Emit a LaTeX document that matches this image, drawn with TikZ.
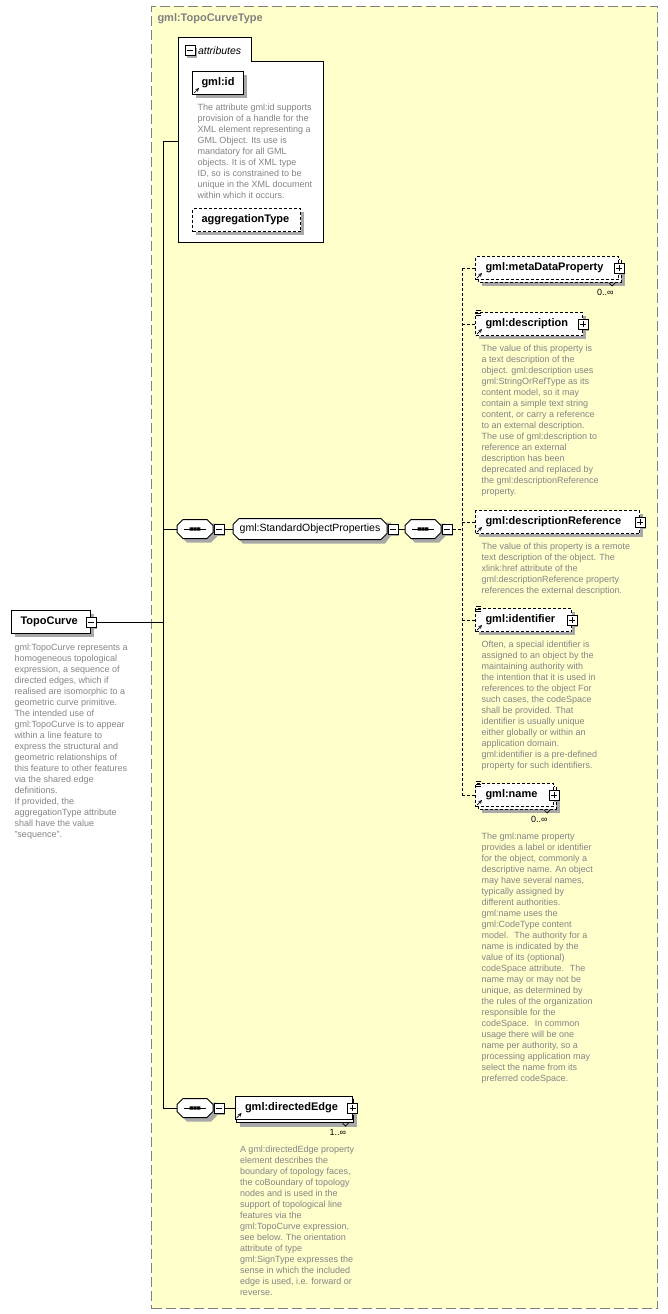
\documentclass[tikz,border=0pt]{standalone}
\usepackage{fontspec}
\setmainfont{Liberation Sans}
\usepackage{tikz}
\usetikzlibrary{arrows, positioning}
\definecolor{typefill}{RGB}{255,255,204}
\definecolor{typeline}{RGB}{128,128,128}
\definecolor{doctext}{RGB}{132,132,132}
\definecolor{shadowgray}{RGB}{168,168,168}
\tikzstyle{typebox} = [rectangle, draw=typeline, fill=typefill, dash pattern=on 10pt off 4pt, anchor=north west, inner sep=0pt]
\tikzstyle{title} = [text=typeline, font=\bfseries\fontsize{11}{13}\selectfont, inner sep=0pt]
\tikzstyle{elem} = [rectangle, draw=black, fill=white, font=\bfseries\fontsize{11}{13}\selectfont, minimum height=23pt, inner xsep=10pt, inner ysep=0pt, anchor=north west, align=left]
\tikzstyle{optline} = [dash pattern=on 3pt off 2pt]
\tikzstyle{backbox} = [draw=black, fill=white]
\tikzstyle{shadefill} = [fill=shadowgray]
\tikzstyle{colbox} = [rectangle, draw=black, fill=white, minimum size=10pt, inner sep=0pt, path picture={\draw ([xshift=2pt]path picture bounding box.west) -- ([xshift=-2pt]path picture bounding box.east);}]
\tikzstyle{expbox} = [colbox, path picture={\draw ([xshift=2pt]path picture bounding box.west) -- ([xshift=-2pt]path picture bounding box.east); \draw ([yshift=-2pt]path picture bounding box.north) -- ([yshift=2pt]path picture bounding box.south);}]
\tikzstyle{doc} = [text=doctext, font=\fontsize{9}{11}\selectfont, align=left, inner sep=0pt]
\tikzstyle{card} = [font=\fontsize{9}{11}\selectfont, inner sep=0pt]
\tikzstyle{refarrow} = [line width=0.7pt, ->, >=stealth]
\tikzstyle{simpleicon} = [line width=0.7pt]
\tikzset{
  compositor/.pic={
    \fill[shadefill] (-8,5.5) -- (22,5.5) -- (22,-7.5) -- (16,-13.5) -- (-8,-13.5) -- (-14,-7.5) -- cycle;
    \draw[fill=white] (-12,9.5) -- (12,9.5) -- (18,3.5) -- (18,-3.5) -- (12,-9.5) -- (-12,-9.5) -- (-18,-3.5) -- (-18,3.5) -- cycle;
    \draw (-11,0) -- (11,0);
    \fill (-5.3,-1.6) rectangle (-2.1,1.6) (-1.6,-1.6) rectangle (1.6,1.6) (2.1,-1.6) rectangle (5.3,1.6);
    \node[minimum width=36pt, minimum height=19pt, inner sep=0pt] (-box) {};
  },
  groupbox/.pic={
    \fill[shadefill] (-67,6.5) -- (81,6.5) -- (81,-6.5) -- (75,-14.5) -- (-67,-14.5) -- (-73,-8.5) -- cycle;
    \draw[fill=white] (-71,10.5) -- (71,10.5) -- (77,4.5) -- (77,-4.5) -- (71,-10.5) -- (-71,-10.5) -- (-77,-4.5) -- (-77,4.5) -- cycle;
    \node[minimum width=154pt, minimum height=21pt, inner sep=0pt, font=\fontsize{10.5}{12}\selectfont] (-box) {#1};
  }
}
\begin{document}
\begin{tikzpicture}[x=1pt, y=1pt, line width=1pt]
\useasboundingbox (0,0) rectangle (668,-1314);
% complex type
\node(ctype) [typebox, minimum width=506, minimum height=1302] at (151,-6) {};
\node(ctypelbl) [title, anchor=west] at (157,-19) {gml:TopoCurveType};

% attributes
\draw[fill=white] (178,-242) |- (251,-38) |- (323,-62) |- cycle;
\coordinate (attrs) at (178,-141);

% shadows and repeated boxes
\fill[shadefill] (187,-48) rectangle (197,-58);
\fill[shadefill] (196,-75) rectangle (247,-98);
\fill[shadefill] (196,-212) rectangle (304,-235);
\fill[shadefill] (15,-614) rectangle (94,-637);
\fill[shadefill] (87,-618.5) rectangle (97,-628.5);
\fill[shadefill] (482,-263) rectangle (625,-286);
\draw[backbox, optline] (478,-259) rectangle (621,-282);
\fill[shadefill] (479,-316) rectangle (586,-339);
\fill[shadefill] (479,-514) rectangle (643,-537);
\fill[shadefill] (479,-612) rectangle (575,-635);
\fill[shadefill] (482,-790) rectangle (560,-813);
\draw[backbox, optline] (478,-786) rectangle (556,-809);
\fill[shadefill] (240,-1103.5) rectangle (357,-1126.5);
\draw[backbox] (236,-1099.5) rectangle (353,-1122.5);
\fill[shadefill] (215,-526) rectangle (225,-536);
\fill[shadefill] (389,-526) rectangle (399,-536);
\fill[shadefill] (443,-526) rectangle (453,-536);
\fill[shadefill] (215,-1105) rectangle (225,-1115);
\fill[shadefill] (615,-264.5) rectangle (625,-274.5);
\fill[shadefill] (579,-320.5) rectangle (589,-330.5);
\fill[shadefill] (636,-518.5) rectangle (646,-528.5);
\fill[shadefill] (568,-616.5) rectangle (578,-626.5);
\fill[shadefill] (550,-791.5) rectangle (560,-801.5);
\fill[shadefill] (347,-1105) rectangle (357,-1115);

\node(attrtog) [colbox] at (190,-51) {};
\node(attrlbl) [right=2pt of attrtog, inner sep=0pt, font=\itshape\fontsize{10.5}{12}\selectfont] {attributes};
\node(gmlid) [elem, text width=33, inner xsep=9pt] at (192,-71) {gml:id};
\draw[refarrow] ([shift={(2,2)}]gmlid.south west) -- ++(5,5);
\node(gmliddoc) [doc, below right=8pt and 5pt of gmlid.south west] {The attribute gml:id supports\\provision of a handle for the\\XML element representing a\\GML Object. Its use is\\mandatory for all GML\\objects. It is of XML type\\ID, so is constrained to be\\unique in the XML document\\within which it occurs.};
\node(aggr) [elem, optline, text width=90, inner xsep=9pt] at (192,-208) {aggregationType};

% element
\node(topo) [elem, text width=61, inner xsep=9pt] at (11,-610) {TopoCurve};
\node(topotog) [colbox] at (topo.east) {};
\node(topodoc) [doc, below right=9pt and 3pt of topo.south west] {gml:TopoCurve represents a\\homogeneous topological\\expression, a sequence of\\directed edges, which if\\realised are isomorphic to a\\geometric curve primitive.\\The intended use of\\gml:TopoCurve is to appear\\within a line feature to\\express the structural and\\geometric relationships of\\this feature to other features\\via the shared edge\\definitions.\\If provided, the\\aggregationType attribute\\shall have the value\\"sequence".};

% content model
\pic (seq1) at (195,-529) {compositor};
\node(seq1tog) [colbox, right=0pt of seq1-box] {};
\pic (sop) at (310,-529) {groupbox={gml:StandardObjectProperties}};
\node(soptog) [colbox, right=0pt of sop-box] {};
\pic (seq2) at (423,-529) {compositor};
\node(seq2tog) [colbox, right=0pt of seq2-box] {};
\coordinate (bus) at (462,-529);

\node(meta) [elem, optline, text width=123] at (475,-256) {gml:metaDataProperty};
\node(metatog) [expbox] at (meta.east) {};
\node(metacard) [card, below left=9pt and 5pt of meta.south east] {0..∞};
\draw[refarrow] ([shift={(2,2)}]meta.south west) -- ++(5,5);

\node(desc) [elem, optline, text width=87] at (475,-312) {gml:description};
\node(desctog) [expbox] at (desc.east) {};
\draw[refarrow] ([shift={(2,2)}]desc.south west) -- ++(5,5);
\draw[simpleicon] ([shift={(1,1.5)}]desc.north west) -- ++(5,0) ++(-5,-2.5) -- ++(5,0) ++(-5,-2.5) -- ++(5,0);
\node(descdoc) [doc, below right=8pt and 6pt of desc.south west] {The value of this property is\\a text description of the\\object. gml:description uses\\gml:StringOrRefType as its\\content model, so it may\\contain a simple text string\\content, or carry a reference\\to an external description.\\The use of gml:description to\\reference an external\\description has been\\deprecated and replaced by\\the gml:descriptionReference\\property.};

\node(descref) [elem, optline, text width=144] at (475,-510) {gml:descriptionReference};
\node(descreftog) [expbox] at (descref.east) {};
\draw[refarrow] ([shift={(2,2)}]descref.south west) -- ++(5,5);
\node(descrefdoc) [doc, below right=8pt and 6pt of descref.south west] {The value of this property is a remote\\text description of the object. The\\xlink:href attribute of the\\gml:descriptionReference property\\references the external description.};

\node(ident) [elem, optline, text width=76] at (475,-608) {gml:identifier};
\node(identtog) [expbox] at (ident.east) {};
\draw[refarrow] ([shift={(2,2)}]ident.south west) -- ++(5,5);
\draw[simpleicon] ([shift={(1,1.5)}]ident.north west) -- ++(5,0) ++(-5,-2.5) -- ++(5,0) ++(-5,-2.5) -- ++(5,0);
\node(identdoc) [doc, below right=8pt and 6pt of ident.south west] {Often, a special identifier is\\assigned to an object by the\\maintaining authority with\\the intention that it is used in\\references to the object For\\such cases, the codeSpace\\shall be provided. That\\identifier is usually unique\\either globally or within an\\application domain.\\gml:identifier is a pre-defined\\property for such identifiers.};

\node(name) [elem, optline, text width=58] at (475,-783) {gml:name};
\node(nametog) [expbox] at (name.east) {};
\node(namecard) [card, below left=9pt and 6pt of name.south east] {0..∞};
\draw[refarrow] ([shift={(2,2)}]name.south west) -- ++(5,5);
\draw[simpleicon] ([shift={(1,1.5)}]name.north west) -- ++(5,0) ++(-5,-2.5) -- ++(5,0) ++(-5,-2.5) -- ++(5,0);
\node(namedoc) [doc, below right=25pt and 6pt of name.south west] {The gml:name property\\provides a label or identifier\\for the object, commonly a\\descriptive name. An object\\may have several names,\\typically assigned by\\different authorities.\\gml:name uses the\\gml:CodeType content\\model.~ The authority for a\\name is indicated by the\\value of its (optional)\\codeSpace attribute.~ The\\name may or may not be\\unique, as determined by\\the rules of the organization\\responsible for the\\codeSpace.~ In common\\usage there will be one\\name per authority, so a\\processing application may\\select the name from its\\preferred codeSpace.};

\pic (seq3) at (195,-1108) {compositor};
\node(seq3tog) [colbox, right=0pt of seq3-box] {};
\node(diredge) [elem, text width=97, right=10pt of seq3tog] {gml:directedEdge};
\node(diredgetog) [expbox] at (diredge.east) {};
\node(diredgecard) [card, below left=9pt and 6pt of diredge.south east] {1..∞};
\draw[refarrow] ([shift={(2,2)}]diredge.south west) -- ++(5,5);
\node(diredgedoc) [doc, below right=25pt and 5pt of diredge.south west] {A gml:directedEdge property\\element describes the\\boundary of topology faces,\\the coBoundary of topology\\nodes and is used in the\\support of topological line\\features via the\\gml:TopoCurve expression,\\see below. The orientation\\attribute of type\\gml:SignType expresses the\\sense in which the included\\edge is used, i.e. forward or\\reverse.};

\draw[line width=0.7pt] ([shift={(-10,-3)}]meta.south east) -- ++(3,-3) -- ++(3,3);
\draw[line width=0.7pt] ([shift={(-10,-3)}]name.south east) -- ++(3,-3) -- ++(3,3);
\draw[line width=0.7pt] ([shift={(-10,-3)}]diredge.south east) -- ++(3,-3) -- ++(3,3);

% connectors
\coordinate (trunktop) at (163,-141);
\coordinate (trunkbot) at (163,-1108);
\draw (trunktop) -- (attrs);
\draw (trunktop) -- (trunkbot) -- (seq3-box);
\draw (topotog) -- (topotog -| trunktop);
\draw (seq1-box -| trunktop) -- (seq1-box);
\draw (seq1tog) -- (sop-box);
\draw (soptog) -- (seq2-box);
\draw (seq3tog) -- (diredge);
\draw[optline] (seq2tog) -- (bus);
\draw[optline] (bus |- meta.west) -- (bus |- name.west);
\draw[optline] (bus |- meta.west) -- (meta.west);
\draw[optline] (bus |- desc.west) -- (desc.west);
\draw[optline] (bus |- descref.west) -- (descref.west);
\draw[optline] (bus |- ident.west) -- (ident.west);
\draw[optline] (bus |- name.west) -- (name.west);
\end{tikzpicture}
\end{document}
